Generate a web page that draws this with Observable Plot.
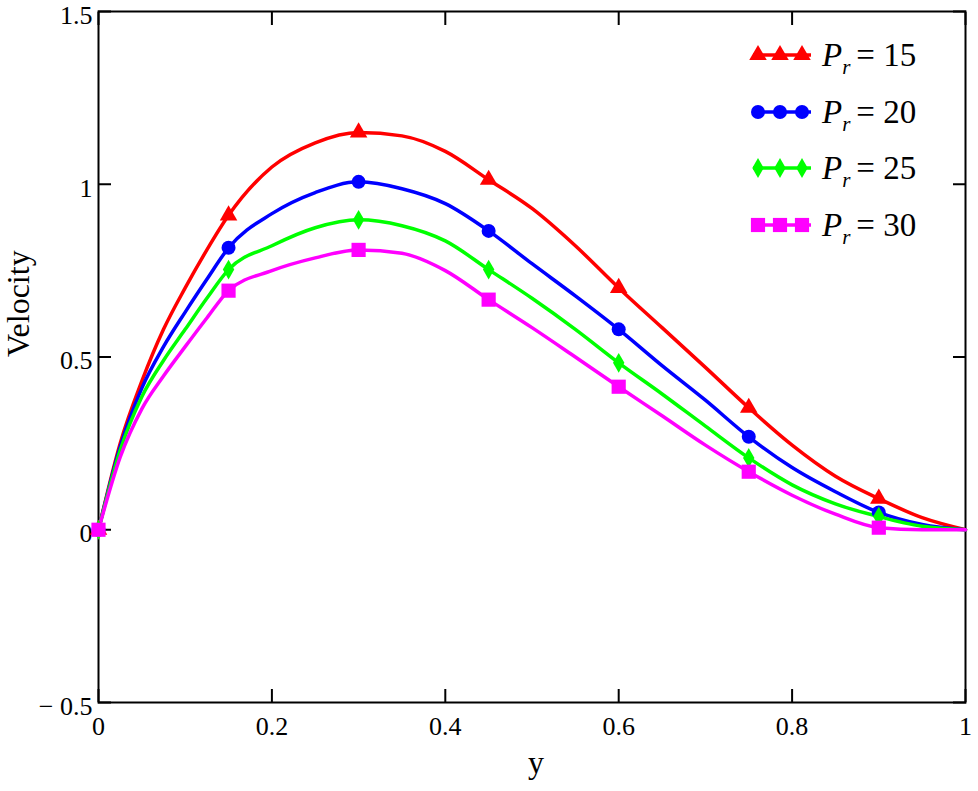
<!DOCTYPE html>
<html><head><meta charset="utf-8">
<script src="https://cdn.jsdelivr.net/npm/d3@7"></script>
<script src="https://cdn.jsdelivr.net/npm/@observablehq/plot@0.6"></script>
<style>
body{margin:0;background:#fff;}
#wrap{position:relative;width:978px;height:791px;}
#legend{position:absolute;left:745px;top:25px;}
#legend text, #legend tspan{font-family:"Liberation Serif", serif;}
</style>
</head><body>
<div id="wrap"><svg id="legend" width="225" height="230"></svg></div>
<script>
// ---- data ----
const yPos = [0, 0.025, 0.05, 0.075, 0.1, 0.125, 0.15, 0.2, 0.25, 0.3, 0.35, 0.4, 0.45, 0.5, 0.55, 0.6, 0.65, 0.7, 0.75, 0.8, 0.85, 0.9, 0.95, 1];
const velPr15 = [0, 0.25, 0.43, 0.58, 0.70, 0.81, 0.91, 1.05, 1.12, 1.15, 1.14, 1.095, 1.013, 0.93, 0.822, 0.70, 0.585, 0.47, 0.353, 0.245, 0.155, 0.09, 0.035, 0];
const velPr20 = [0, 0.24, 0.41, 0.53, 0.63, 0.725, 0.816, 0.915, 0.976, 1.007, 0.987, 0.944, 0.865, 0.77, 0.677, 0.58, 0.475, 0.375, 0.269, 0.18, 0.11, 0.05, 0.015, 0];
const velPr25 = [0, 0.23, 0.385, 0.49, 0.58, 0.67, 0.753, 0.822, 0.874, 0.897, 0.88, 0.836, 0.753, 0.67, 0.58, 0.483, 0.393, 0.30, 0.208, 0.13, 0.075, 0.038, 0.01, 0];
const velPr30 = [0, 0.21, 0.35, 0.445, 0.53, 0.613, 0.692, 0.75, 0.787, 0.81, 0.80, 0.75, 0.666, 0.585, 0.50, 0.414, 0.33, 0.245, 0.168, 0.10, 0.045, 0.006, 0, 0];
const seriesNames = ["15", "20", "25", "30"];
const seriesColors = ["#ff0000", "#0000ff", "#00ff00", "#ff00ff"];
const seriesSymbols = ["triangle", "circle", "diamond", "square"];
const seriesR = [6.5, 7, 6, 8];
const markerPos = [0, 0.15, 0.3, 0.45, 0.6, 0.75, 0.9];
const xTicks = [0, 0.2, 0.4, 0.6, 0.8, 1];
const yTicks = [-0.5, 0, 0.5, 1, 1.5];

const allVals = [velPr15, velPr20, velPr25, velPr30];
const rows = [];
allVals.forEach((vals, s) => yPos.forEach((x, i) => rows.push({s, x, v: vals[i]})));

const fmtY = d => d < 0 ? "\u2212 " + Math.abs(d) : String(d);
const font = '"Liberation Serif", serif';

const marks = [
  Plot.frame({stroke: "black", strokeWidth: 2}),
  Plot.axisY(yTicks, {anchor: "left", tickSize: -13, tickFormat: () => "", strokeWidth: 2, label: null}),
  Plot.axisY(yTicks, {anchor: "right", tickSize: -13, tickFormat: () => "", strokeWidth: 2, label: null}),
  Plot.axisX(xTicks, {anchor: "bottom", tickSize: -13, tickFormat: () => "", strokeWidth: 2, label: null}),
  Plot.axisX(xTicks, {anchor: "top", tickSize: -13, tickFormat: () => "", strokeWidth: 2, label: null}),
  Plot.axisY(yTicks, {anchor: "left", tickSize: 0, tickPadding: 6, tickFormat: fmtY, fontSize: 26, dy: 4, label: null}),
  Plot.axisX(xTicks, {anchor: "bottom", tickSize: 0, tickPadding: 14, tickFormat: d => String(d), fontSize: 26, label: null}),
  Plot.text(["Velocity"], {frameAnchor: "left", dx: -80, rotate: -90, fontSize: 32}),
  Plot.text(["y"], {frameAnchor: "bottom", dx: 4, dy: 70, fontSize: 32})
];
seriesNames.forEach((name, s) => {
  const d = rows.filter(r => r.s === s);
  marks.push(Plot.line(d, {x: "x", y: "v", stroke: seriesColors[s], strokeWidth: 3.5, curve: "monotone-x"}));
});
seriesNames.forEach((name, s) => {
  const d = rows.filter(r => r.s === s && markerPos.some(m => Math.abs(m - r.x) < 1e-9));
  marks.push(Plot.dot(d, {x: "x", y: "v", symbol: () => seriesSymbols[s], fill: seriesColors[s], stroke: "none", r: seriesR[s]}));
});

const chart = Plot.plot({
  width: 978, height: 791,
  marginLeft: 98, marginRight: 13, marginTop: 11, marginBottom: 89,
  x: {domain: [0, 1], axis: null},
  y: {domain: [-0.5, 1.5], axis: null},
  symbol: {type: "identity"},
  style: {fontFamily: font, color: "black", background: "white"},
  marks
});
document.getElementById("wrap").prepend(chart);

// legend (drawn as SVG so it uses the same serif font as the axes)
const legend = d3.select("#legend");
const rowCenters = [30, 87, 143, 200];
seriesNames.forEach((name, s) => {
  const g = legend.append("g").attr("transform", `translate(0,${rowCenters[s]})`);
  g.append("line").attr("x1", 8).attr("x2", 66).attr("y1", 0).attr("y2", 0)
    .attr("stroke", seriesColors[s]).attr("stroke-width", 3.5);
  const symType = {triangle: d3.symbolTriangle, circle: d3.symbolCircle, diamond: d3.symbolDiamond, square: d3.symbolSquare}[seriesSymbols[s]];
  const sym = d3.symbol(symType, seriesR[s] * seriesR[s] * Math.PI)();
  [13, 35, 57].forEach(cx => g.append("path").attr("d", sym).attr("transform", `translate(${cx},0)`).attr("fill", seriesColors[s]));
  const t = g.append("text").attr("x", 77).attr("y", 11).attr("font-size", 33)
    .attr("font-family", "Liberation Serif").attr("fill", "black");
  t.append("tspan").attr("font-style", "italic").text("P");
  t.append("tspan").attr("font-style", "italic").attr("font-size", 21).attr("dy", 8).text("r");
  t.append("tspan").attr("dy", -8).attr("dx", 6).text("=\u00a0" + name);
});
</script>
</body></html>
